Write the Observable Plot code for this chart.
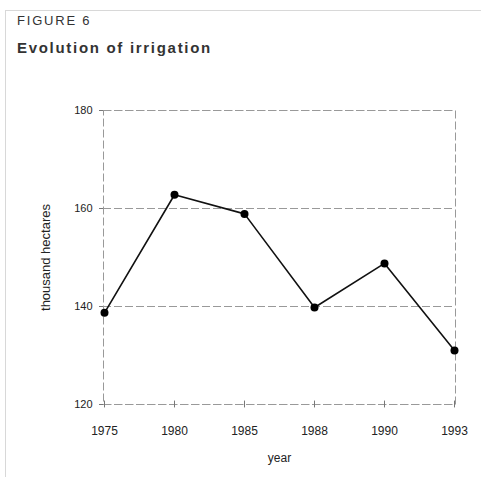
<!DOCTYPE html>
<html>
<head>
<meta charset="utf-8">
<script src="https://cdn.jsdelivr.net/npm/d3@7"></script>
<script src="https://cdn.jsdelivr.net/npm/@observablehq/plot@0.6"></script>
<style>
  html, body { margin: 0; padding: 0; background: #fff; }
  #wrap { position: relative; width: 481px; height: 477px; overflow: hidden; font-family: "Liberation Sans", Arial, sans-serif; }
  #frame { position: absolute; left: 5px; top: 10px; width: 490px; height: 480px; border-top: 1px solid #d8d8d8; border-left: 1px solid #d8d8d8; }
  #head { position: absolute; left: 17px; top: 13px; height: 57px; color: #333; }
  #fig { font-size: 13px; letter-spacing: 1.8px; }
  #title { font-size: 15px; font-weight: bold; margin-top: 11px; letter-spacing: 1.7px; }
  #chart { position: absolute; left: 0; top: 70px; }
</style>
</head>
<body>
<div id="wrap">
  <div id="frame"></div>
  <div id="head">
    <div id="fig">FIGURE 6</div>
    <div id="title">Evolution of irrigation</div>
  </div>
  <div id="chart"></div>
</div>
<script>
const years = ["1975", "1980", "1985", "1988", "1990", "1993"];
const values = [138.7, 162.8, 158.9, 139.8, 148.8, 131];
const yTicks = [120, 140, 160, 180];
const yLabel = "thousand hectares";
const xLabel = "year";

const data = years.map((y, i) => ({year: y, value: values[i]}));

const plot = Plot.plot({
  width: 481,
  height: 407,
  marginTop: 40,
  marginBottom: 73,
  marginLeft: 103,
  marginRight: 26,
  style: {fontFamily: "Liberation Sans, Arial, sans-serif", fontSize: "11px", color: "#222", background: "transparent"},
  x: {type: "point", domain: years, padding: 0},
  y: {domain: [120, 180]},
  marks: [
    Plot.ruleY(yTicks, {stroke: "#999", strokeDasharray: "8,3", strokeWidth: 1}),
    Plot.frame({stroke: "#999", strokeDasharray: "8,3", strokeWidth: 1}),
    Plot.axisY({ticks: yTicks, tickSize: 4, tickPadding: 7, label: null, stroke: "#777"}),
    Plot.text([yLabel], {frameAnchor: "left", textAnchor: "middle", dx: -58, rotate: -90, fontSize: 13, letterSpacing: "1.8px", fill: "#222"}),
    Plot.axisX({tickSize: 3, tickPadding: 19, label: xLabel, labelAnchor: "center", labelArrow: "none", labelOffset: 57, stroke: "#777", fontSize: 12}),
    Plot.ruleX(years, {x: d => d, y1: 119.3, y2: 120.7, stroke: "#777"}),
    Plot.line(data, {x: "year", y: "value", stroke: "#111", strokeWidth: 1.6}),
    Plot.dot(data, {x: "year", y: "value", r: 4, fill: "#000", stroke: "none"})
  ]
});
document.getElementById("chart").appendChild(plot);
</script>
</body>
</html>
